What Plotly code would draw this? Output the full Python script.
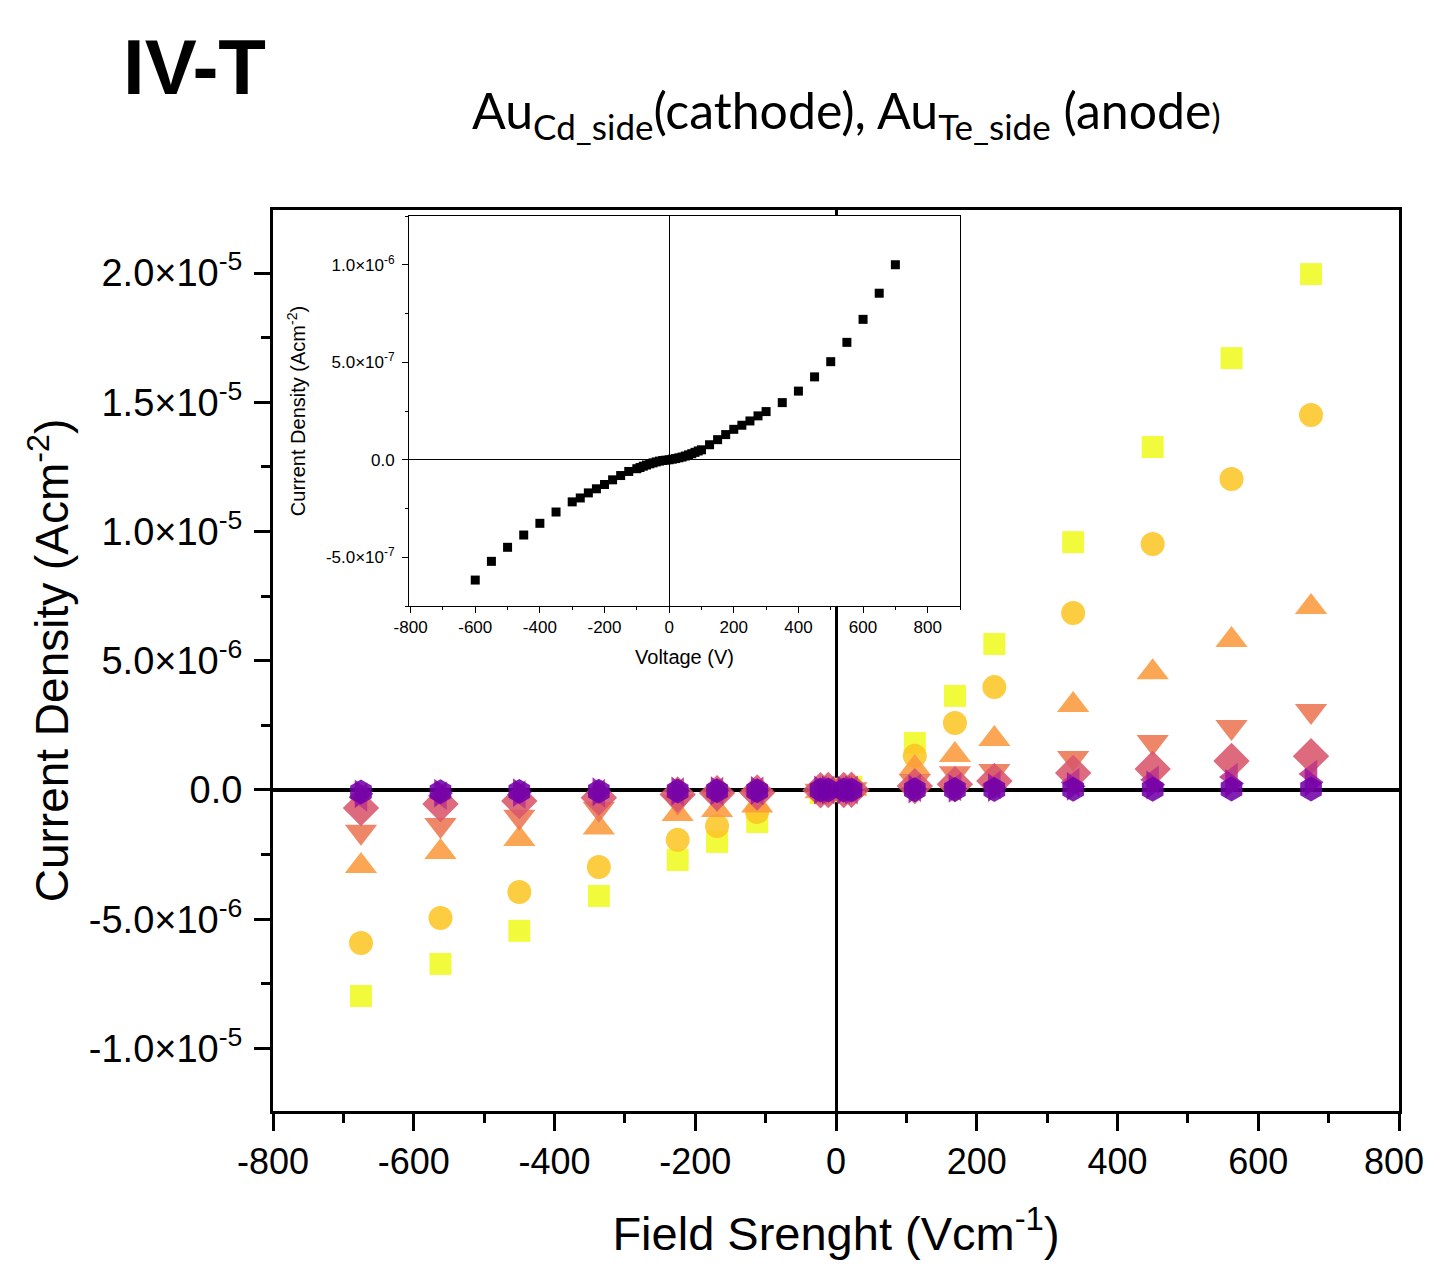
import plotly.graph_objects as go

# ---------------- data ----------------
field = [-675, -562, -450, -337, -225, -169, -112, -22, -11, 11, 22,
         112, 169, 225, 337, 450, 562, 675]

j_square = [-7.97e-6, -6.73e-6, -5.45e-6, -4.10e-6, -2.71e-6, -2.01e-6, -1.24e-6,
            -0.12e-6, -0.05e-6, 0.05e-6, 0.12e-6,
            1.82e-6, 3.64e-6, 5.65e-6, 9.59e-6, 1.327e-5, 1.671e-5, 1.996e-5]
j_circle = [-5.92e-6, -4.95e-6, -3.95e-6, -2.98e-6, -1.93e-6, -1.39e-6, -0.85e-6,
            -0.09e-6, -0.04e-6, 0.04e-6, 0.09e-6,
            1.32e-6, 2.59e-6, 3.98e-6, 6.85e-6, 9.52e-6, 1.203e-5, 1.451e-5]
j_triup = [-2.94e-6, -2.40e-6, -1.90e-6, -1.45e-6, -0.93e-6, -0.77e-6, -0.60e-6,
           -0.05e-6, -0.02e-6, 0.02e-6, 0.05e-6,
           0.85e-6, 1.35e-6, 1.97e-6, 3.29e-6, 4.56e-6, 5.80e-6, 7.08e-6]
j_tridown = [-1.62e-6, -1.35e-6, -1.04e-6, -0.73e-6, -0.45e-6, -0.32e-6, -0.25e-6,
             -0.03e-6, -0.01e-6, 0.01e-6, 0.03e-6,
             0.35e-6, 0.65e-6, 0.73e-6, 1.24e-6, 1.86e-6, 2.44e-6, 3.06e-6]
j_diamond = [-0.70e-6, -0.54e-6, -0.43e-6, -0.30e-6, -0.17e-6, -0.12e-6, -0.10e-6,
             -0.01e-6, 0.0, 0.0, 0.01e-6,
             0.15e-6, 0.22e-6, 0.35e-6, 0.66e-6, 0.81e-6, 1.12e-6, 1.31e-6]
j_trileft = [-0.28e-6, -0.22e-6, -0.18e-6, -0.12e-6, -0.07e-6, -0.05e-6, -0.04e-6,
             0.0, 0.0, 0.0, 0.0,
             0.08e-6, 0.12e-6, 0.20e-6, 0.30e-6, 0.40e-6, 0.50e-6, 0.62e-6]
j_triright = [-0.15e-6, -0.12e-6, -0.10e-6, -0.07e-6, -0.04e-6, -0.03e-6, -0.02e-6,
              0.0, 0.0, 0.0, 0.0,
              0.04e-6, 0.06e-6, 0.09e-6, 0.14e-6, 0.20e-6, 0.25e-6, 0.30e-6]
j_hexagon = [-0.08e-6, -0.07e-6, -0.06e-6, -0.05e-6, -0.04e-6, -0.03e-6, -0.03e-6,
             0.0, 0.0, 0.0, 0.0,
             0.01e-6, 0.02e-6, 0.02e-6, 0.03e-6, 0.03e-6, 0.04e-6, 0.04e-6]

series = [
    ("square", "#f0f921", j_square, 22),
    ("circle", "#fcc527", j_circle, 24),
    ("triangle-up", "#fa9a3c", j_triup, 28),
    ("triangle-down", "#ec7653", j_tridown, 28),
    ("diamond", "#d8576b", j_diamond, 28),
    ("triangle-left", "#bd3786", j_trileft, 25),
    ("triangle-right", "#9c179e", j_triright, 25),
    ("hexagon", "#7201a8", j_hexagon, 25),
]

# inset data (Voltage in V, current density in A cm^-2)
v_inset = [-600, -550, -500, -450, -400, -350, -300, -275, -250, -225, -200, -175,
           -150, -125, -100, -90, -80, -70, -60, -50, -40, -30, -20, -10, 0,
           10, 20, 30, 40, 50, 60, 70, 80, 90, 100, 125, 150, 175, 200, 225,
           250, 275, 300, 350, 400, 450, 500, 550, 600, 650, 700]
j_inset = [-0.617e-6, -0.521e-6, -0.449e-6, -0.386e-6, -0.326e-6, -0.268e-6,
           -0.216e-6, -0.196e-6, -0.170e-6, -0.149e-6, -0.127e-6, -0.103e-6,
           -0.081e-6, -0.060e-6, -0.046e-6, -0.040e-6, -0.033e-6, -0.027e-6,
           -0.021e-6, -0.016e-6, -0.011e-6, -0.007e-6, -0.004e-6, -0.002e-6, 0.0,
           0.003e-6, 0.006e-6, 0.010e-6, 0.014e-6, 0.019e-6, 0.025e-6, 0.031e-6,
           0.038e-6, 0.045e-6, 0.051e-6, 0.077e-6, 0.103e-6, 0.129e-6, 0.156e-6,
           0.177e-6, 0.199e-6, 0.225e-6, 0.247e-6, 0.293e-6, 0.352e-6, 0.425e-6,
           0.503e-6, 0.602e-6, 0.720e-6, 0.854e-6, 1.0e-6]

x_tickvals = [-800, -600, -400, -200, 0, 200, 400, 600, 800]
x_ticktext = ["-800", "-600", "-400", "-200", "0", "200", "400", "600", "800"]
inset_xticktext = list(x_ticktext)

main_ytickvals = [-1.0e-5, -5.0e-6, 0.0, 5.0e-6, 1.0e-5, 1.5e-5, 2.0e-5]
main_yticktext = ["-1.0×10<sup>-5</sup>", "-5.0×10<sup>-6</sup>", "0.0",
                  "5.0×10<sup>-6</sup>", "1.0×10<sup>-5</sup>",
                  "1.5×10<sup>-5</sup>", "2.0×10<sup>-5</sup>"]
main_yminor = [-1.25e-5, -7.5e-6, -2.5e-6, 2.5e-6, 7.5e-6, 1.25e-5, 1.75e-5, 2.25e-5]

inset_ytickvals = [-5.0e-7, 0.0, 5.0e-7, 1.0e-6]
inset_yticktext = ["-5.0×10<sup>-7</sup>", "0.0", "5.0×10<sup>-7</sup>", "1.0×10<sup>-6</sup>"]
inset_yminor = [-7.5e-7, -2.5e-7, 2.5e-7, 7.5e-7, 1.25e-6]

# ---------------- figure ----------------
FONT = "Liberation Sans, Arial, sans-serif"
OFF = 7  # page offset of the figure inside the window
W, H = 1425, 1252  # sized so the page needs no scrollbars
L, T = 272 - OFF, 209 - OFF
PW, PH = 1126, 901
R, B = W - L - PW, H - T - PH


def px(x):
    return (x - OFF - L) / PW


def py(y):
    return (T + PH - (y - OFF)) / PH


# the last main x label sits at the window edge; nudge it inward slightly
main_xticktext = list(x_ticktext)
main_xticktext[-1] = main_xticktext[-1] + "\u00a0"

fig = go.Figure()

for sym, col, vals, size in series:
    fig.add_trace(go.Scatter(
        x=field, y=vals, mode="markers", xaxis="x", yaxis="y",
        marker=dict(symbol=sym, color=col, size=size, opacity=0.88,
                    line=dict(width=0)),
        showlegend=False, hoverinfo="skip"))

fig.add_trace(go.Scatter(
    x=v_inset, y=j_inset, mode="markers", xaxis="x2", yaxis="y2",
    marker=dict(symbol="square", color="black", size=9, line=dict(width=0)),
    showlegend=False, hoverinfo="skip"))

fig.update_layout(
    width=W, height=H,
    margin=dict(l=L, r=R, t=T, b=B, autoexpand=False),
    paper_bgcolor="white", plot_bgcolor="white",
    font=dict(family=FONT, color="black"),
    xaxis=dict(
        domain=[0, 1], range=[-800, 800], automargin=False,
        tickmode="array", tickvals=x_tickvals, ticktext=main_xticktext,
        ticklabeloverflow="allow",
        ticks="outside", ticklen=17, tickwidth=3, tickcolor="black",
        minor=dict(tickmode="array", tickvals=[-700, -500, -300, -100, 100, 300, 500, 700],
                   ticks="outside", ticklen=9, tickwidth=3, tickcolor="black"),
        showline=True, linewidth=3, linecolor="black", mirror=True,
        showgrid=False, zeroline=True, zerolinewidth=2.5, zerolinecolor="black",
        tickfont=dict(size=36, family=FONT),
        title=dict(text="Field Srenght (Vcm<sup>-1</sup>)", font=dict(size=47, family=FONT),
                   standoff=40),
    ),
    yaxis=dict(
        domain=[0, 1], range=[-1.242e-5, 2.244e-5], automargin=False,
        tickmode="array", tickvals=main_ytickvals, ticktext=main_yticktext,
        ticklabeloverflow="allow",
        ticks="outside", ticklen=16, tickwidth=3, tickcolor="black",
        ticklabelstandoff=4,
        minor=dict(tickmode="array", tickvals=main_yminor,
                   ticks="outside", ticklen=9, tickwidth=3, tickcolor="black"),
        showline=True, linewidth=3, linecolor="black", mirror=True,
        showgrid=False, zeroline=True, zerolinewidth=3.5, zerolinecolor="black",
        tickfont=dict(size=38, family=FONT),
        title=dict(text="Current Density (Acm<sup>-2</sup>)", font=dict(size=46, family=FONT),
                   standoff=6),
    ),
    xaxis2=dict(
        domain=[px(408), px(959)], anchor="y2", range=[-805, 900], automargin=False,
        tickmode="array", tickvals=x_tickvals, ticktext=inset_xticktext,
        ticks="outside", ticklen=6, tickwidth=1, tickcolor="black",
        minor=dict(tickmode="array", tickvals=[-700, -500, -300, -100, 100, 300, 500, 700, 900],
                   ticks="outside", ticklen=3, tickwidth=1, tickcolor="black"),
        showline=True, linewidth=1, linecolor="black", mirror=True,
        showgrid=False, zeroline=True, zerolinewidth=1, zerolinecolor="black",
        tickfont=dict(size=17, family=FONT),
        title=dict(text="Voltage (V)", font=dict(size=20, family=FONT), standoff=13),
    ),
    yaxis2=dict(
        domain=[py(605), py(215)], anchor="x2", range=[-7.5e-7, 1.25e-6], automargin=False,
        tickmode="array", tickvals=inset_ytickvals, ticktext=inset_yticktext,
        ticks="outside", ticklen=6, tickwidth=1, tickcolor="black",
        ticklabelstandoff=4,
        minor=dict(tickmode="array", tickvals=inset_yminor,
                   ticks="outside", ticklen=3, tickwidth=1, tickcolor="black"),
        showline=True, linewidth=1, linecolor="black", mirror=True,
        showgrid=False, zeroline=True, zerolinewidth=1, zerolinecolor="black",
        tickfont=dict(size=17, family=FONT),
        title=dict(text="Current Density (Acm<sup>-2</sup>)", font=dict(size=20, family=FONT),
                   standoff=14),
    ),
    annotations=[
        dict(text="<b>IV-T</b>", x=px(120), y=py(66), xref="paper", yref="paper",
             xanchor="left", yanchor="middle", showarrow=False,
             font=dict(size=78, family=FONT)),
        dict(text="Au<sub>Cd_side</sub>(cathode), Au<sub>Te_side</sub> (anode<span style='font-size:34px'>)</span>",
             x=px(845), y=py(112), xref="paper", yref="paper",
             xanchor="center", yanchor="middle", showarrow=False,
             font=dict(size=50, family="Lato, Open Sans, sans-serif")),
    ],
)

fig.write_html("out.html")
